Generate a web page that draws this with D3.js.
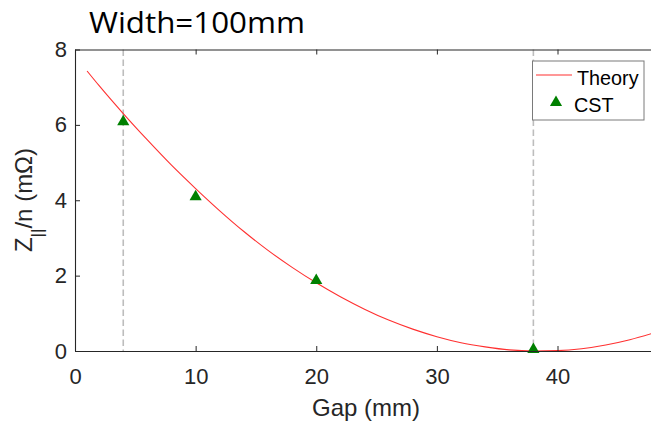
<!DOCTYPE html>
<html><head><meta charset="utf-8">
<script src="https://cdn.jsdelivr.net/npm/d3@7/dist/d3.min.js"></script>
<style>html,body{margin:0;padding:0;background:#fff;}svg{display:block;}</style>
</head><body><svg id="c" width="651" height="425"></svg>
<script>
const theoryX = [1,2,4,6,8,10,12,14,16,18,20,22,24,26,28,30,32,34,36,38,40,42,44,46,48];
const theoryY = [7.43,7.04,6.30,5.60,4.93,4.31,3.72,3.17,2.67,2.22,1.81,1.44,1.11,0.82,0.58,0.38,0.22,0.11,0.03,0.00,0.01,0.06,0.16,0.30,0.48];
const cstX = [4,10,20,38];
const cstY = [6.08,4.09,1.87,0.04];
const dashedX = [4,38];
const xTicks = [0,10,20,30,40];
const yTicks = [0,2,4,6,8];
const titleText = "Width=100mm";
const legendLabels = ["Theory","CST"];

const svg = d3.select("#c");
const x = d3.scaleLinear().domain([0,48]).range([75,654]);
const y = d3.scaleLinear().domain([0,8]).range([351,49.5]);
const axisColor = "#262626";
const font = "'Liberation Sans', Arial, sans-serif";

// dashed verticals
svg.selectAll("line.dash").data(dashedX).enter().append("line")
  .attr("x1",d=>x(d)).attr("x2",d=>x(d)).attr("y1",y(8)).attr("y2",y(0))
  .attr("stroke","#bdbdbd").attr("stroke-width",1.6).attr("stroke-dasharray","6.5,3.5");

// theory line
const pts = theoryX.map((d,i)=>[d,theoryY[i]]);
svg.append("path").datum(pts)
  .attr("d", d3.line().x(d=>x(d[0])).y(d=>y(d[1])).curve(d3.curveMonotoneX))
  .attr("fill","none").attr("stroke","#ff3030").attr("stroke-width",1.1);

// CST markers
const tri = d3.symbol().type(d3.symbolTriangle).size(64);
svg.selectAll("path.cst").data(cstX.map((d,i)=>[d,cstY[i]])).enter().append("path")
  .attr("d",tri).attr("transform",d=>`translate(${x(d[0])},${y(d[1])})`)
  .attr("fill","#008000");

// axes
const xAxis = d3.axisBottom(x).tickValues(xTicks).tickSizeInner(-5).tickSizeOuter(0).tickPadding(17);
const gx = svg.append("g").attr("transform",`translate(0,${y(0)})`).call(xAxis);
const xTop = d3.axisTop(x).tickValues(xTicks).tickSizeInner(-5).tickSizeOuter(0).tickFormat("");
const gxt = svg.append("g").attr("transform",`translate(0,${y(8)})`).call(xTop);
const yAxis = d3.axisLeft(y).tickValues(yTicks).tickSizeInner(-5).tickSizeOuter(0).tickPadding(8);
const gy = svg.append("g").attr("transform",`translate(${x(0)},0)`).call(yAxis);
[gx,gxt,gy].forEach(g=>{
  g.select(".domain").attr("stroke",axisColor).attr("stroke-width",1.1);
  g.selectAll(".tick line").attr("stroke",axisColor).attr("stroke-width",1);
  g.selectAll(".tick text").attr("fill",axisColor).style("font-family",font).style("font-size","22px");
});

// axis labels
svg.append("text").attr("x",366).attr("y",416).attr("text-anchor","middle")
  .style("font-family",font).style("font-size","24px").attr("fill",axisColor).text("Gap (mm)");
const yl = svg.append("text").attr("transform","translate(32,200) rotate(-90)").attr("text-anchor","middle")
  .style("font-family",font).style("font-size","24px").attr("fill",axisColor);
yl.append("tspan").text("Z");
yl.append("tspan").attr("dy",11).style("font-size","17px").text("||");
yl.append("tspan").attr("dy",-11).text("/n (mΩ)");

// title
svg.append("text").attr("x",89).attr("y",33).style("font-family","'Open Sans', sans-serif")
  .style("font-size","29px").attr("fill","#000").attr("textLength",216).attr("lengthAdjust","spacingAndGlyphs").text(titleText);

// legend
const lg = svg.append("g");
lg.append("rect").attr("x",532.5).attr("y",61).attr("width",111.5).attr("height",59)
  .attr("fill","#fff").attr("stroke","#7a7a7a").attr("stroke-width",1);
lg.append("line").attr("x1",536).attr("x2",572).attr("y1",75).attr("y2",75).attr("stroke","#ff3030").attr("stroke-width",1.1);
lg.append("path").attr("d",tri).attr("transform","translate(556,102.5)").attr("fill","#008000");
lg.selectAll("text").data(legendLabels).enter().append("text")
  .attr("x",(d,i)=>i===0?577:574).attr("y",(d,i)=>i===0?85:111.5)
  .style("font-family",font).style("font-size","19.8px").attr("fill","#000").text(d=>d);
</script></body></html>
